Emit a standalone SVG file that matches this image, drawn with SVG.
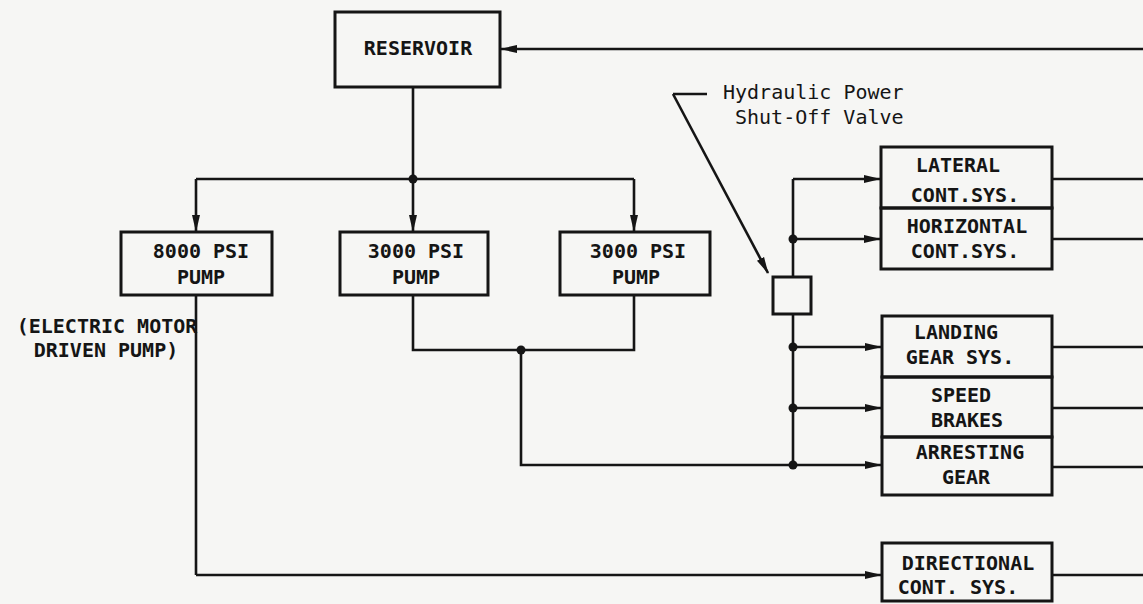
<svg xmlns="http://www.w3.org/2000/svg" width="1143" height="604" viewBox="0 0 1143 604">
<style>
.bx{fill:none;stroke:#151515;stroke-width:3}
.ln{fill:none;stroke:#151515;stroke-width:2.6}
.ar{fill:none;stroke:#151515;stroke-width:2.6;marker-end:url(#ah)}
.t{font-family:"DejaVu Sans Mono","Liberation Mono",monospace;font-weight:bold;font-size:20px;fill:#151515;text-anchor:middle}
.n{font-family:"DejaVu Sans Mono","Liberation Mono",monospace;font-size:20px;fill:#151515}
.dot{fill:#151515}
</style>
<defs>
<marker id="ah" markerUnits="userSpaceOnUse" markerWidth="17" markerHeight="10" refX="16" refY="5" orient="auto">
<path d="M0,1 L17,5 L0,9 z" fill="#151515"/>
</marker>
</defs>
<rect width="1143" height="604" fill="#f6f6f4"/>
<g id="connectors">
<path class="ar" d="M1143,49 H501"/>
<path class="ln" d="M413,87 V179 M196,179 H634"/>
<path class="ar" d="M196,179 V231"/>
<path class="ar" d="M413,179 V231"/>
<path class="ar" d="M634,179 V231"/>
<path class="ln" d="M413,295 V350 H634 V295"/>
<path class="ln" d="M521,350 V465 H793"/>
<path class="ln" d="M793,179 V277 M793,314 V465"/>
<path class="ar" d="M793,179 H880"/>
<path class="ar" d="M793,239 H880"/>
<path class="ar" d="M793,347 H881"/>
<path class="ar" d="M793,408 H881"/>
<path class="ar" d="M793,465 H881"/>
<path class="ln" d="M196,295 V575"/>
<path class="ar" d="M196,575 H881"/>
<path class="ln" d="M1052,179 H1143 M1052,239 H1143 M1052,347 H1143 M1052,408 H1143 M1052,467 H1143 M1052,575 H1143"/>
<path class="ln" d="M707,94 H673" stroke-width="2"/>
<path class="ar" d="M673,94 L768,273" stroke-width="2"/>
<circle class="dot" cx="413" cy="179" r="4.5"/>
<circle class="dot" cx="521" cy="350" r="4.5"/>
<circle class="dot" cx="793" cy="239" r="4.5"/>
<circle class="dot" cx="793" cy="347" r="4.5"/>
<circle class="dot" cx="793" cy="408" r="4.5"/>
<circle class="dot" cx="793" cy="465" r="4.5"/>
</g>
<g id="reservoir">
<rect class="bx" x="335" y="12" width="165" height="75"/>
<text class="t" x="418" y="55">RESERVOIR</text>
</g>
<g id="pump8000">
<rect class="bx" x="121" y="232" width="151" height="63"/>
<text class="t" x="201" y="258">8000 PSI</text>
<text class="t" x="201" y="284">PUMP</text>
</g>
<g id="pump3000a">
<rect class="bx" x="340" y="232" width="148" height="63"/>
<text class="t" x="416" y="258">3000 PSI</text>
<text class="t" x="416" y="284">PUMP</text>
</g>
<g id="pump3000b">
<rect class="bx" x="560" y="232" width="150" height="63"/>
<text class="t" x="638" y="258">3000 PSI</text>
<text class="t" x="636" y="284">PUMP</text>
</g>
<g id="motor-note">
<text class="t" x="107" y="333" font-size="18">(ELECTRIC MOTOR</text>
<text class="t" x="106" y="357" font-size="18">DRIVEN PUMP)</text>
</g>
<g id="valve">
<rect class="bx" x="773" y="277" width="38" height="37" stroke-width="2.5"/>
<text class="n" x="723" y="99">Hydraulic Power</text>
<text class="n" x="735" y="124">Shut-Off Valve</text>
</g>
<g id="lateral">
<rect class="bx" x="881" y="147" width="171" height="61"/>
<text class="t" x="958" y="172">LATERAL</text>
<text class="t" x="965" y="202">CONT.SYS.</text>
</g>
<g id="horizontal">
<rect class="bx" x="881" y="208" width="171" height="61"/>
<text class="t" x="967" y="233">HORIZONTAL</text>
<text class="t" x="965" y="258">CONT.SYS.</text>
</g>
<g id="landing">
<rect class="bx" x="882" y="316" width="170" height="61"/>
<text class="t" x="956" y="339">LANDING</text>
<text class="t" x="960" y="364">GEAR SYS.</text>
</g>
<g id="speed">
<rect class="bx" x="882" y="377" width="170" height="60"/>
<text class="t" x="961" y="402">SPEED</text>
<text class="t" x="967" y="427">BRAKES</text>
</g>
<g id="arresting">
<rect class="bx" x="882" y="437" width="170" height="58"/>
<text class="t" x="970" y="459">ARRESTING</text>
<text class="t" x="966" y="484">GEAR</text>
</g>
<g id="directional">
<rect class="bx" x="882" y="543" width="170" height="58"/>
<text class="t" x="968" y="570">DIRECTIONAL</text>
<text class="t" x="958" y="594">CONT. SYS.</text>
</g>
</svg>
